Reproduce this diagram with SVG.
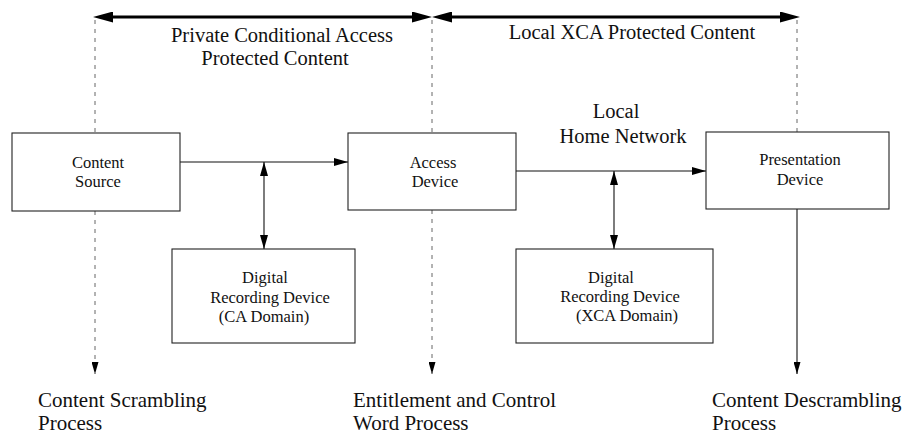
<svg xmlns="http://www.w3.org/2000/svg" width="906" height="434" viewBox="0 0 906 434">
<style>
.box{fill:#fff;stroke:#222;stroke-width:1.1}
.t{font-family:"Liberation Serif","Times New Roman",serif;fill:#111;text-anchor:middle}
.bt{font-size:16.5px}
.lt{font-size:20.5px}
.lb{font-family:"Liberation Serif","Times New Roman",serif;fill:#111;font-size:21px}
.dash{stroke:#666;stroke-width:1;stroke-dasharray:4 5;fill:none}
.thin{stroke:#111;stroke-width:1.1;fill:none}
.thick{stroke:#000;stroke-width:3;fill:none}
</style>
<defs>
<marker id="ah" viewBox="0 0 14 8" refX="14" refY="4" markerWidth="14" markerHeight="8" markerUnits="userSpaceOnUse" orient="auto-start-reverse"><path d="M0,0 L14,4 L0,8 z" fill="#000"/></marker>
<marker id="big" viewBox="0 0 20 11" refX="10" refY="5.5" markerWidth="20" markerHeight="11" markerUnits="userSpaceOnUse" orient="auto-start-reverse"><path d="M0,0 L20,5.5 L0,11 z" fill="#000"/></marker>
<marker id="sm" viewBox="0 0 12 7" refX="12" refY="3.5" markerWidth="12" markerHeight="7" markerUnits="userSpaceOnUse" orient="auto"><path d="M0,0 L12,3.5 L0,7 z" fill="#000"/></marker>
</defs>

<g id="connectors">
  <line class="thick" x1="103" y1="17" x2="422" y2="17" marker-start="url(#big)" marker-end="url(#big)"/>
  <line class="thick" x1="442" y1="17" x2="790" y2="17" marker-start="url(#big)" marker-end="url(#big)"/>
  <line class="dash" x1="95" y1="20" x2="95" y2="133"/>
  <line class="dash" x1="432" y1="20" x2="432" y2="133"/>
  <line class="dash" x1="797" y1="20" x2="797" y2="132"/>
  <line class="dash" x1="95" y1="211" x2="95" y2="374" marker-end="url(#sm)"/>
  <line class="dash" x1="432" y1="210" x2="432" y2="374" marker-end="url(#sm)"/>
  <line class="thin" x1="797" y1="209" x2="797" y2="374" marker-end="url(#sm)"/>
  <line class="thin" x1="180" y1="162" x2="348" y2="162" marker-end="url(#ah)"/>
  <line class="thin" x1="264" y1="162" x2="264" y2="249" marker-start="url(#ah)" marker-end="url(#ah)"/>
  <line class="thin" x1="516" y1="171" x2="706" y2="171" marker-end="url(#ah)"/>
  <line class="thin" x1="614" y1="171" x2="614" y2="249" marker-start="url(#ah)" marker-end="url(#ah)"/>
</g>

<g id="label-private">
  <text class="t lt" x="282" y="42">Private Conditional Access</text>
  <text class="t lt" x="275" y="65">Protected Content</text>
</g>
<g id="label-xca">
  <text class="t lt" x="632" y="39">Local XCA Protected Content</text>
</g>
<g id="label-network">
  <text class="t lt" x="616" y="118">Local</text>
  <text class="t lt" x="623" y="143">Home Network</text>
</g>

<g id="content-source">
  <rect class="box" x="12" y="133" width="168" height="78"/>
  <text class="t bt" x="98" y="168">Content</text>
  <text class="t bt" x="98" y="187">Source</text>
</g>
<g id="access-device">
  <rect class="box" x="348" y="133" width="168" height="77"/>
  <text class="t bt" x="433" y="168">Access</text>
  <text class="t bt" x="435" y="187">Device</text>
</g>
<g id="presentation-device">
  <rect class="box" x="706" y="132" width="183" height="77"/>
  <text class="t bt" x="800" y="165">Presentation</text>
  <text class="t bt" x="800" y="185">Device</text>
</g>
<g id="recording-ca">
  <rect class="box" x="172" y="249" width="183" height="94"/>
  <text class="t bt" x="265" y="283">Digital</text>
  <text class="t bt" x="270" y="303">Recording Device</text>
  <text class="t bt" x="264" y="322">(CA Domain)</text>
</g>
<g id="recording-xca">
  <rect class="box" x="516" y="249" width="197" height="94"/>
  <text class="t bt" x="611" y="283">Digital</text>
  <text class="t bt" x="620" y="302">Recording Device</text>
  <text class="t bt" x="627" y="321">(XCA Domain)</text>
</g>

<g id="label-scrambling">
  <text class="lb" x="38" y="407">Content Scrambling</text>
  <text class="lb" x="38" y="430">Process</text>
</g>
<g id="label-entitlement">
  <text class="lb" x="353" y="407">Entitlement and Control</text>
  <text class="lb" x="353" y="430">Word Process</text>
</g>
<g id="label-descrambling">
  <text class="lb" x="712" y="407">Content Descrambling</text>
  <text class="lb" x="712" y="430">Process</text>
</g>
</svg>
